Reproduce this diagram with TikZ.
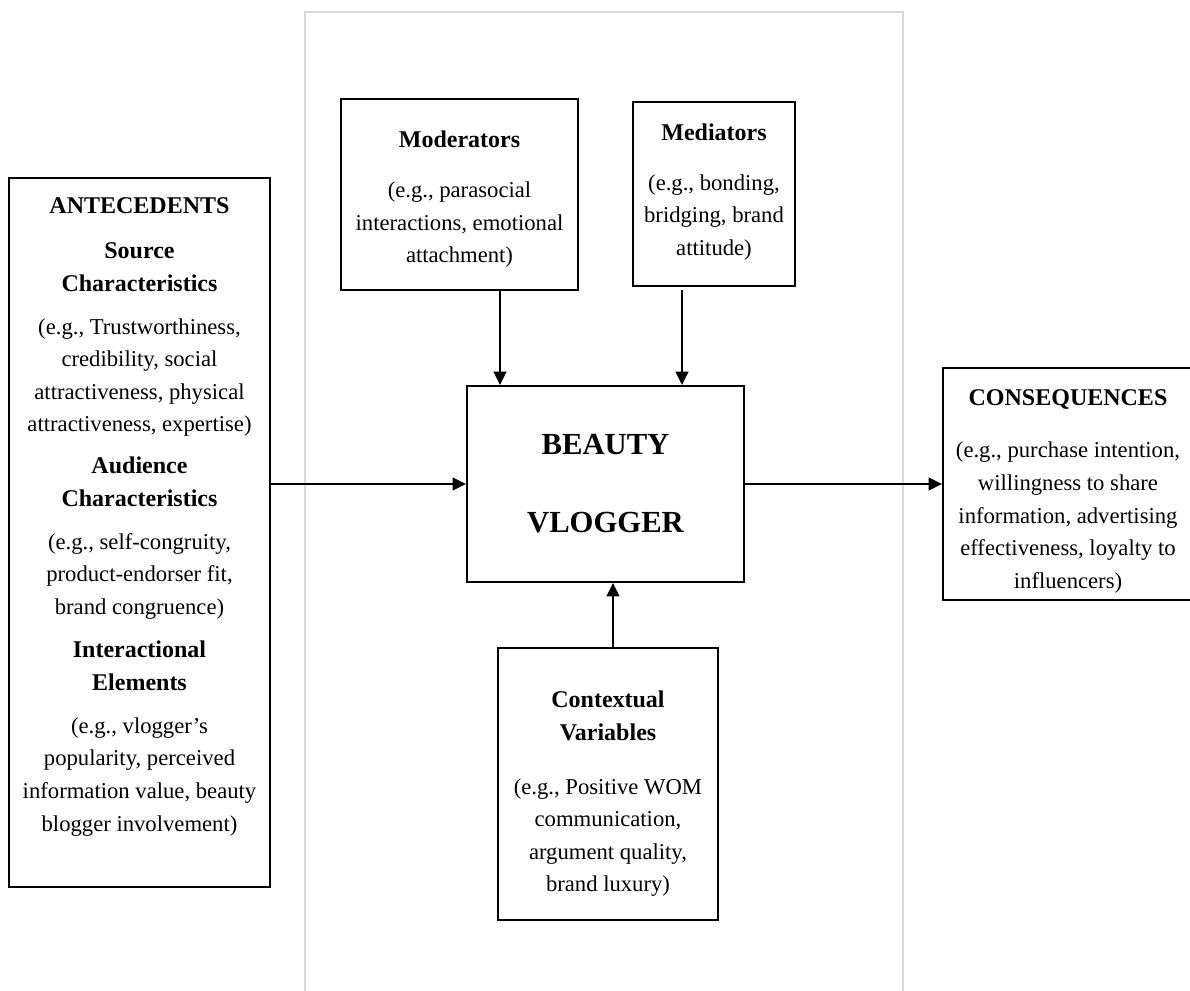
\documentclass[tikz,border=0pt]{standalone}
\usepackage{fontspec}
\setmainfont{Liberation Serif}
\usetikzlibrary{arrows.meta,fit}
\newcommand{\hd}[1]{{\fontsize{18}{24.4}\selectfont\bfseries #1}}
\begin{document}
\begin{tikzpicture}[x=0.75pt,y=-0.75pt,
  box/.style={draw=black, line width=1.5pt, inner sep=0pt},
  txt/.style={align=center, inner sep=0pt, font=\fontsize{17}{24.4}\selectfont},
  arr/.style={line width=1.5pt, -{Triangle[length=10pt,width=9.5pt]}},
  panel/.style={draw=black!15, line width=0.8pt}]
\useasboundingbox (0,0) rectangle (1190,991);
% light panel
\draw[panel] (305,996) -- (305,12) -- (903,12) -- (903,996);
% boxes
\node[box, fit={(9,178) (270,887)}] (ante) {};
\node[box, fit={(341,99) (578,290)}] (mod) {};
\node[box, fit={(633,102) (795,286)}] (med) {};
\node[box, fit={(467,386) (744,582)}] (beauty) {};
\node[box, fit={(498,648) (718,920)}] (ctx) {};
\node[box, fit={(943,368) (1196,600)}] (cons) {};
% texts
\node[txt] (anteT) at (139.5,517) {\hd{ANTECEDENTS}\\[9pt]
  \hd{Source}\\ \hd{Characteristics}\\[8pt]
  (e.g., Trustworthiness,\\ credibility, social\\ attractiveness, physical\\ attractiveness, expertise)\\[7pt]
  \hd{Audience}\\ \hd{Characteristics}\\[8pt]
  (e.g., self-congruity,\\ product-endorser fit,\\ brand congruence)\\[8pt]
  \hd{Interactional}\\ \hd{Elements}\\[8pt]
  (e.g., vlogger’s\\ popularity, perceived\\ information value, beauty\\ blogger involvement)};
\node[txt] (modT) at (459.5,199.5) {\hd{Moderators}\\[13pt]
  (e.g., parasocial\\ interactions, emotional\\ attachment)};
\node[txt] (medT) at (714,192) {\hd{Mediators}\\[13pt]
  (e.g., bonding,\\ bridging, brand\\ attitude)};
\node[align=center, inner sep=0pt, font=\fontsize{23}{58.5}\selectfont\bfseries] (beautyT) at (605.5,484) {BEAUTY\\VLOGGER};
\node[txt] (ctxT) at (608,794) {\hd{Contextual}\\ \hd{Variables}\\[16pt]
  (e.g., Positive WOM\\ communication,\\ argument quality,\\ brand luxury)};
\node[txt] (consT) at (1068,491.5) {\hd{CONSEQUENCES}\\[14.6pt]
  (e.g., purchase intention,\\ willingness to share\\ information, advertising\\ effectiveness, loyalty to\\ influencers)};
% connectors
\draw[arr] (ante.east |- beauty.west) -- (beauty.west);
\draw[arr] (beauty.east) -- (beauty.east -| cons.west);
\draw[arr] (mod.south -| 500,0) -- (beauty.north -| 500,0);
\draw[arr, shorten <=2.2pt] (med.south -| 682,0) -- (beauty.north -| 682,0);
\draw[arr] (ctx.north -| 613,0) -- (beauty.south -| 613,0);
\end{tikzpicture}
\end{document}
